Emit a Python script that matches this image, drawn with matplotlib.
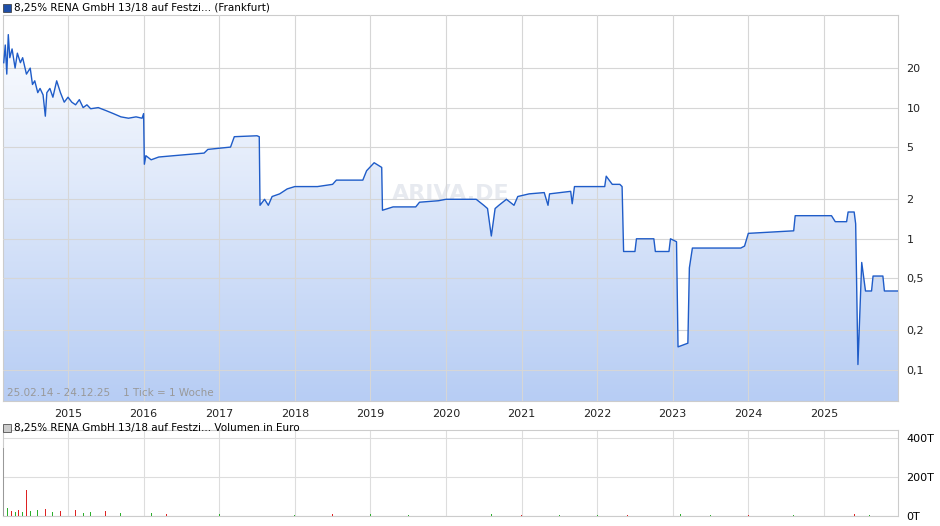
import numpy as np
import matplotlib
matplotlib.use("Agg")
import matplotlib.pyplot as plt
from matplotlib.patches import Polygon, Rectangle
from matplotlib.colors import LinearSegmentedColormap

years = [2014.15,2014.17,2014.19,2014.21,2014.23,2014.26,2014.3,2014.33,2014.37,2014.4,2014.45,2014.5,2014.53,2014.56,2014.6,2014.63,2014.67,2014.7,2014.72,2014.76,2014.8,2014.85,2014.9,2014.95,2015.0,2015.05,2015.1,2015.15,2015.2,2015.25,2015.3,2015.4,2015.5,2015.6,2015.7,2015.8,2015.9,2015.98,2016.0,2016.01,2016.03,2016.1,2016.2,2016.4,2016.6,2016.8,2016.85,2017.0,2017.15,2017.2,2017.5,2017.53,2017.54,2017.6,2017.65,2017.7,2017.8,2017.9,2018.0,2018.3,2018.5,2018.55,2018.9,2018.95,2019.05,2019.15,2019.16,2019.3,2019.6,2019.65,2019.9,2020.0,2020.4,2020.5,2020.55,2020.6,2020.65,2020.7,2020.8,2020.9,2020.95,2021.1,2021.3,2021.35,2021.37,2021.65,2021.67,2021.7,2022.0,2022.1,2022.12,2022.2,2022.3,2022.33,2022.35,2022.5,2022.52,2022.75,2022.77,2022.95,2022.97,2023.05,2023.07,2023.2,2023.22,2023.26,2023.9,2023.95,2024.0,2024.6,2024.62,2025.1,2025.15,2025.3,2025.32,2025.4,2025.42,2025.45,2025.5,2025.55,2025.63,2025.65,2025.78,2025.8,2025.98]
prices = [22,30,18,36,24,28,20,26,22,24,18,20,15,16,13,14,12.5,8.6,13,14,12,16,13,11,12,11,10.5,11.5,10,10.5,9.8,10,9.5,9,8.5,8.3,8.5,8.3,9.0,3.7,4.3,4.0,4.2,4.3,4.4,4.5,4.8,4.9,5.0,6.0,6.1,6.0,1.8,2.0,1.8,2.1,2.2,2.4,2.5,2.5,2.6,2.8,2.8,3.3,3.8,3.5,1.65,1.75,1.75,1.9,1.95,2.0,2.0,1.8,1.7,1.05,1.7,1.8,2.0,1.8,2.1,2.2,2.25,1.8,2.2,2.3,1.85,2.5,2.5,2.5,3.0,2.6,2.6,2.5,0.8,0.8,1.0,1.0,0.8,0.8,1.0,0.95,0.15,0.16,0.6,0.85,0.85,0.88,1.1,1.15,1.5,1.5,1.35,1.35,1.6,1.6,1.3,0.11,0.66,0.4,0.4,0.52,0.52,0.4,0.4]

vol_years = [2014.15,2014.2,2014.25,2014.3,2014.35,2014.4,2014.45,2014.5,2014.6,2014.7,2014.8,2014.9,2015.0,2015.1,2015.2,2015.3,2015.5,2015.7,2015.9,2016.1,2016.3,2016.6,2017.0,2017.5,2018.0,2018.5,2019.0,2019.5,2020.0,2020.6,2021.0,2021.5,2022.0,2022.4,2023.1,2023.5,2024.0,2024.6,2025.4,2025.6]
vol_values = [350,40,25,20,30,20,135,25,30,35,20,25,20,30,15,20,25,15,10,15,12,8,10,10,6,8,10,6,5,10,5,4,6,5,8,4,3,4,10,3]
vol_up = [0,1,0,1,0,1,0,1,1,0,1,0,1,0,1,1,0,1,0,1,0,1,1,0,1,0,1,1,0,1,0,1,1,0,1,1,0,1,0,1]

xmin, xmax = 2014.14, 2025.98
fig = plt.figure(figsize=(9.4, 5.26), dpi=100)
ax = fig.add_axes([3/940, 125/526, 895/940, 386/526])
ax.set_yscale('log')
ax.set_xlim(xmin, xmax)
ax.set_ylim(0.058, 50.8)
grad = np.linspace(0, 1, 256).reshape(-1, 1)
cm = LinearSegmentedColormap.from_list('g', ['#b7cdf4', '#ffffff'])
im = ax.imshow(grad, cmap=cm, aspect='auto', extent=[0, 1, 0, 1], origin='lower',
               transform=ax.transAxes, zorder=1)
poly = Polygon(list(zip(years, prices)) + [(years[-1], 0.058), (years[0], 0.058)], closed=True, transform=ax.transData)
im.set_clip_path(poly)
ax.plot(years, prices, color='#1f5cc8', lw=1.0, zorder=3)
yt = [0.1, 0.2, 0.5, 1, 2, 5, 10, 20]
ax.set_yticks(yt)
ax.set_yticklabels(['0,1', '0,2', '0,5', '1', '2', '5', '10', '20'])
ax.minorticks_off()
ax.yaxis.tick_right()
xt = list(range(2015, 2026))
ax.set_xticks(xt)
ax.set_xticklabels([str(y) for y in xt])
ax.tick_params(length=0, labelsize=8, pad=6, colors='#222222')
ax.set_axisbelow(False)
ax.grid(True, color='#d6d6d6', lw=0.8, zorder=2)
for s in ax.spines.values():
    s.set_color('#cccccc')
ax.text(0.005, 0.012, '25.02.14 - 24.12.25    1 Tick = 1 Woche', transform=ax.transAxes, fontsize=7.5, color='#999999', zorder=4)
ax.text(0.5, 0.52, 'ARIVA.DE', transform=ax.transAxes, fontsize=16, color='#d8dde6', ha='center', fontweight='bold', alpha=0.6, zorder=2)

fig.patches.append(Rectangle((3/940, 1-12/526), 8/940, 8/526, transform=fig.transFigure, facecolor='#1f4fa8', edgecolor='#333333', lw=0.5))
fig.text(14/940, 1-8/526, '8,25% RENA GmbH 13/18 auf Festzi... (Frankfurt)', fontsize=7.5, va='center')

vax = fig.add_axes([3/940, 10/526, 895/940, 86/526])
vax.set_xlim(xmin, xmax)
vax.set_ylim(0, 440)
cols = ['#2cae2c' if u else '#dd2222' for u in vol_up]
cols[0] = '#999999'
vax.bar(vol_years, vol_values, width=0.012, color=cols, zorder=3)
vax.set_yticks([0, 200, 400])
vax.set_yticklabels(['0T', '200T', '400T'])
vax.yaxis.tick_right()
vax.set_xticks(xt)
vax.set_xticklabels([])
vax.tick_params(length=0, labelsize=8, pad=6)
vax.grid(True, color='#dddddd', lw=0.8, zorder=0)
for s in vax.spines.values():
    s.set_color('#cccccc')
fig.patches.append(Rectangle((3/940, 1-432/526), 8/940, 8/526, transform=fig.transFigure, facecolor='#cccccc', edgecolor='#333333', lw=0.5))
fig.text(14/940, 1-428/526, '8,25% RENA GmbH 13/18 auf Festzi... Volumen in Euro', fontsize=7.5, va='center')
fig.savefig('out.png', dpi=100)
